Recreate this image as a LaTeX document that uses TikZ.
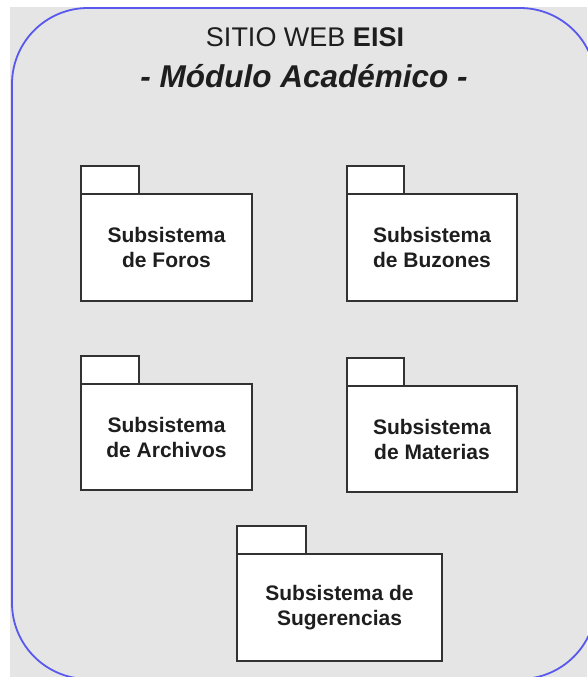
\documentclass[tikz,border=0pt]{standalone}
\usepackage{fontspec}
\setmainfont{Liberation Sans}
\definecolor{framecol}{RGB}{88,88,238}
\definecolor{bggray}{RGB}{229,229,229}
\definecolor{edgecol}{RGB}{50,50,50}
\definecolor{txtcol}{RGB}{30,30,30}
\begin{document}
\begin{tikzpicture}[x=1pt,y=-1pt,
  pkgbody/.style={draw=edgecol, fill=white, line width=1.4pt, inner sep=0pt, outer sep=0pt,
    align=center, text=txtcol, font=\fontsize{21}{25}\selectfont\bfseries, minimum height=107},
  pkgtab/.style={draw=edgecol, fill=white, line width=1.4pt, inner sep=0pt, outer sep=0pt,
    minimum height=28, anchor=south west},
  title/.style={anchor=base, inner sep=0pt, text=txtcol}]
\useasboundingbox (0,0) rectangle (587,677);
\fill[white] (0,0) rectangle (587,677);
\fill[bggray] (10,7) rectangle (587,677);
\draw[framecol, line width=1.8pt, rounded corners=76] (12,8) rectangle (596,679);
% title
\node[title, font=\fontsize{27}{32}\selectfont] (t1) at (305,47) {SITIO WEB \textbf{EISI}};
\node[title, font=\fontsize{31.5}{38}\selectfont\bfseries\itshape] (t2) at (304,87) {- Módulo Académico -};
% packages
\node[pkgbody, minimum width=171] (foros) at (166.5,247.5) {Subsistema\\de Foros};
\node[pkgtab, minimum width=58] (forostab) at (foros.north west) {};
\node[pkgbody, minimum width=170] (buzones) at (432,247.5) {Subsistema\\de Buzones};
\node[pkgtab, minimum width=57] (buzonestab) at (buzones.north west) {};
\node[pkgbody, minimum width=171, minimum height=106] (archivos) at (166.5,437) {Subsistema\\de Archivos};
\node[pkgtab, minimum width=58] (archivostab) at (archivos.north west) {};
\node[pkgbody, minimum width=170, minimum height=106] (materias) at (432,439) {Subsistema\\de Materias};
\node[pkgtab, minimum width=57] (materiastab) at (materias.north west) {};
\node[pkgbody, minimum width=205] (sugerencias) at (339.5,607.5) {Subsistema de\\Sugerencias};
\node[pkgtab, minimum width=69] (sugerenciastab) at (sugerencias.north west) {};
\end{tikzpicture}
\end{document}
